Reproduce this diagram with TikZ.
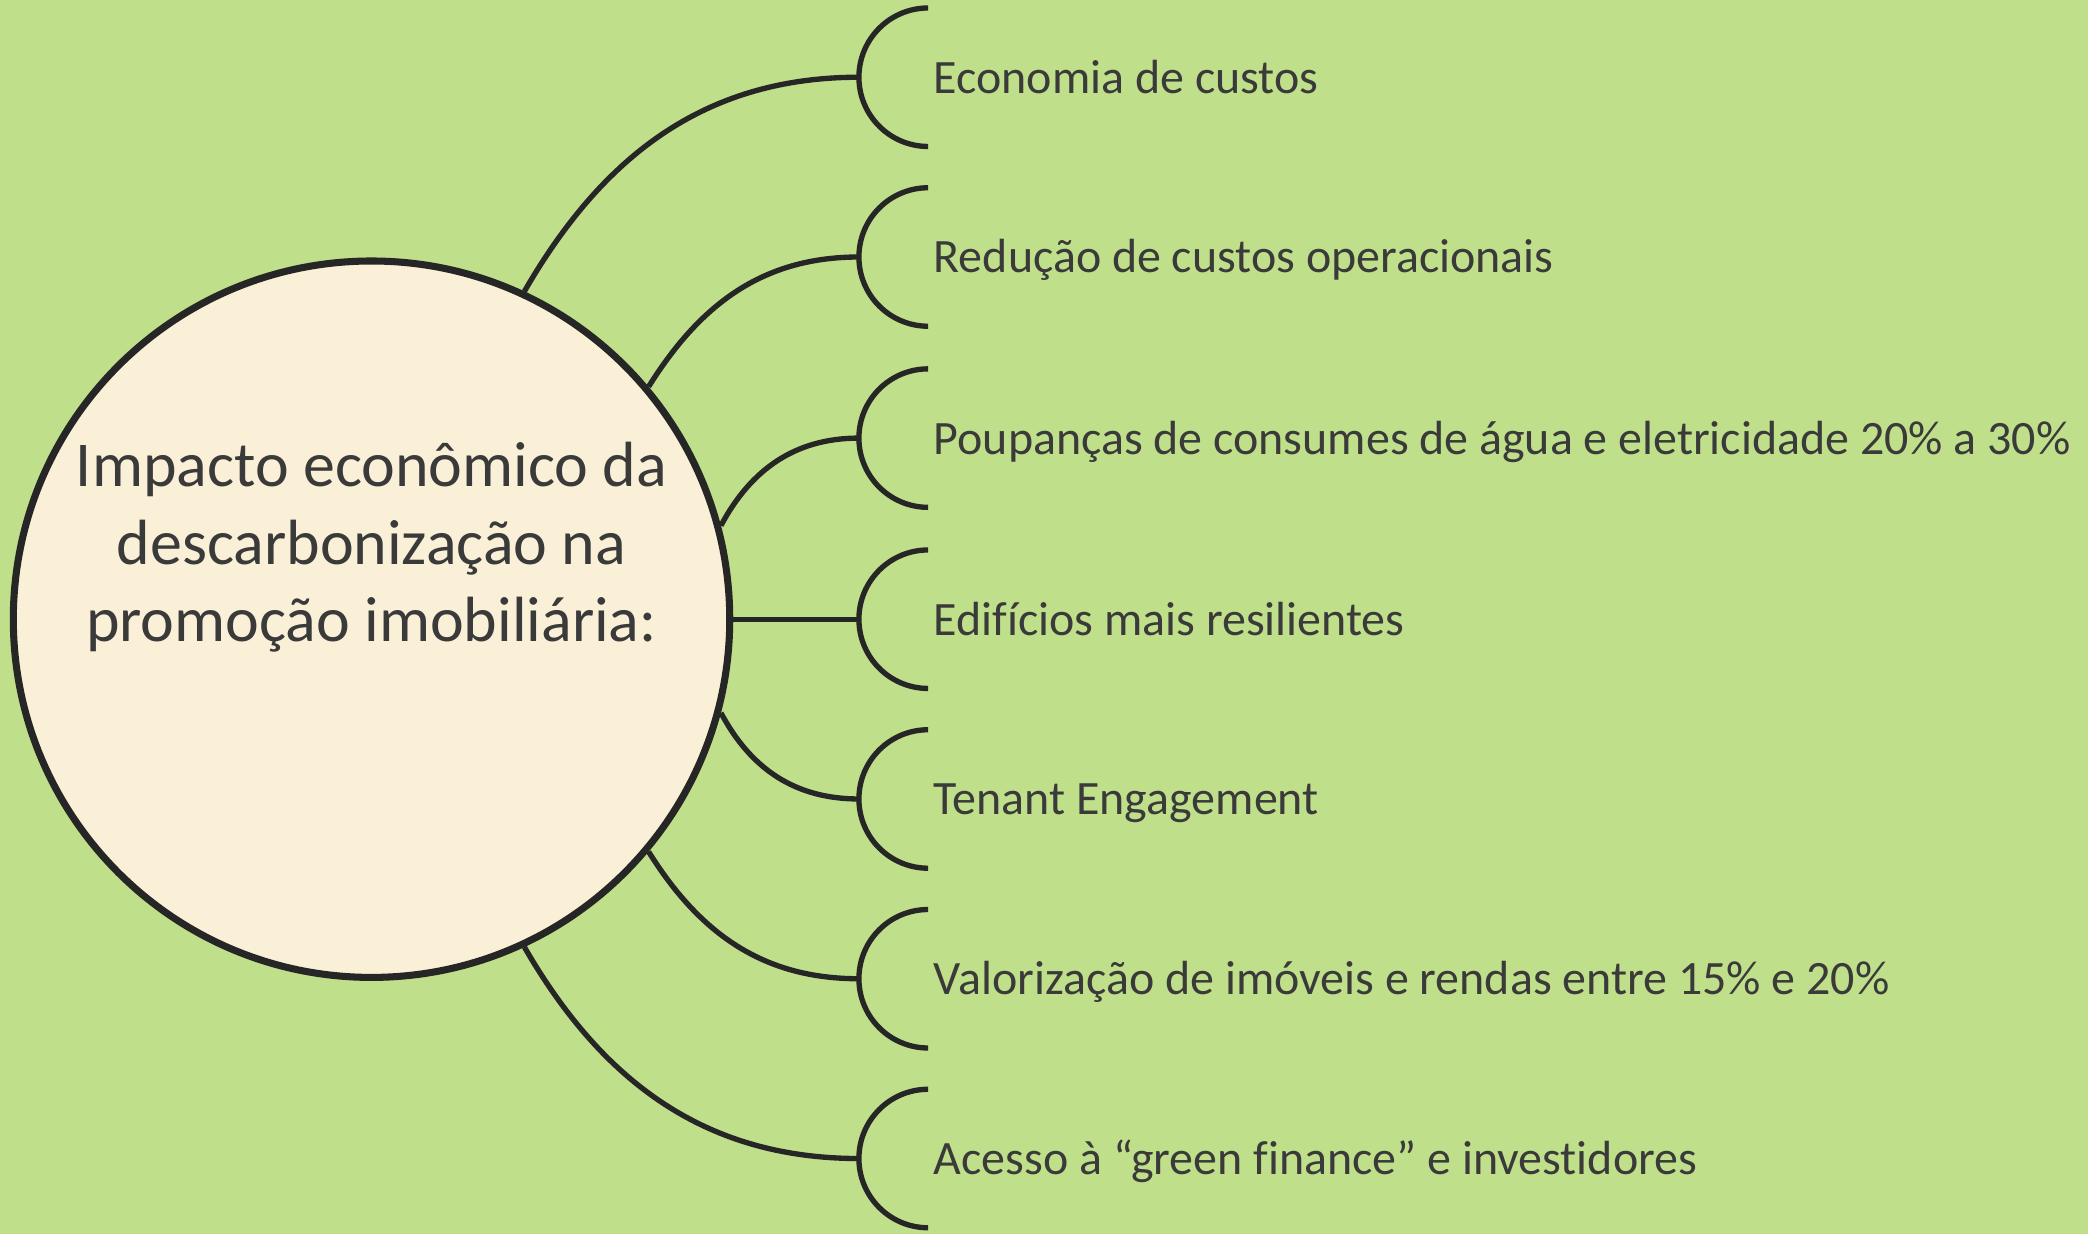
\documentclass[tikz,border=0pt]{standalone}
\usepackage{fontspec}
\setmainfont{Carlito}[Ligatures={NoCommon,NoContextual}]
\usepackage{xcolor}
\usetikzlibrary{positioning}
\definecolor{leafgreen}{RGB}{192,223,138}
\definecolor{cream}{RGB}{250,240,215}
\definecolor{inkgray}{RGB}{38,38,38}
\definecolor{textgray}{RGB}{58,58,58}

\begin{document}
\begin{tikzpicture}[x=1pt, y=1pt, every node/.style={text=textgray},
  hub/.style={draw=inkgray, line width=5.3pt, circle, fill=cream, minimum size=538pt, inner sep=0pt},
  link/.style={draw=inkgray, line width=4pt},
  item/.style={anchor=west, inner sep=0pt, text height=24pt, text depth=0pt, font=\fontsize{36}{44}\selectfont}]
\fill[leafgreen] (0,0) rectangle (1568,927);
\useasboundingbox (0,0) rectangle (1568,927);

\node (hub) [hub] at (279,462) {};
\node (title) [align=center, inner sep=0pt, font=\fontsize{48}{58}\selectfont] at (279,516) {Impacto econômico da\\descarbonização na\\promoção imobiliária:};

% bracket points
\coordinate (b1) at (645,869);
\coordinate (b2) at (645,734);
\coordinate (b3) at (645,598);
\coordinate (b4) at (645,462);
\coordinate (b5) at (645,327);
\coordinate (b6) at (645,192);
\coordinate (b7) at (645,57);

\draw[link] (hub.65) to[out=60, in=180] (b1);
\draw[link] (hub.40) to[out=58, in=180] (b2);
\draw[link] (hub.15) to[out=62, in=180] (b3);
\draw[link] (hub.0) -- (b4);
\draw[link] (hub.-15) to[out=-62, in=180] (b5);
\draw[link] (hub.-40) to[out=-58, in=180] (b6);
\draw[link] (hub.-65) to[out=-60, in=180] (b7);

\draw[link] (b1) ++(52,52) arc[start angle=90, end angle=270, radius=52];
\draw[link] (b2) ++(52,52) arc[start angle=90, end angle=270, radius=52];
\draw[link] (b3) ++(52,52) arc[start angle=90, end angle=270, radius=52];
\draw[link] (b4) ++(52,52) arc[start angle=90, end angle=270, radius=52];
\draw[link] (b5) ++(52,52) arc[start angle=90, end angle=270, radius=52];
\draw[link] (b6) ++(52,52) arc[start angle=90, end angle=270, radius=52];
\draw[link] (b7) ++(52,52) arc[start angle=90, end angle=270, radius=52];

\node (t1) [item, right=56pt of b1] {Economia de custos};
\node (t2) [item, right=56pt of b2] {Redução de custos operacionais};
\node (t3) [item, right=56pt of b3] {Poupanças de consumes de água e eletricidade 20\% a 30\%};
\node (t4) [item, right=56pt of b4] {Edifícios mais resilientes};
\node (t5) [item, right=56pt of b5] {Tenant Engagement};
\node (t6) [item, right=56pt of b6] {Valorização de imóveis e rendas entre 15\% e 20\%};
\node (t7) [item, right=56pt of b7] {Acesso à “green finance” e investidores};
\end{tikzpicture}
\end{document}
